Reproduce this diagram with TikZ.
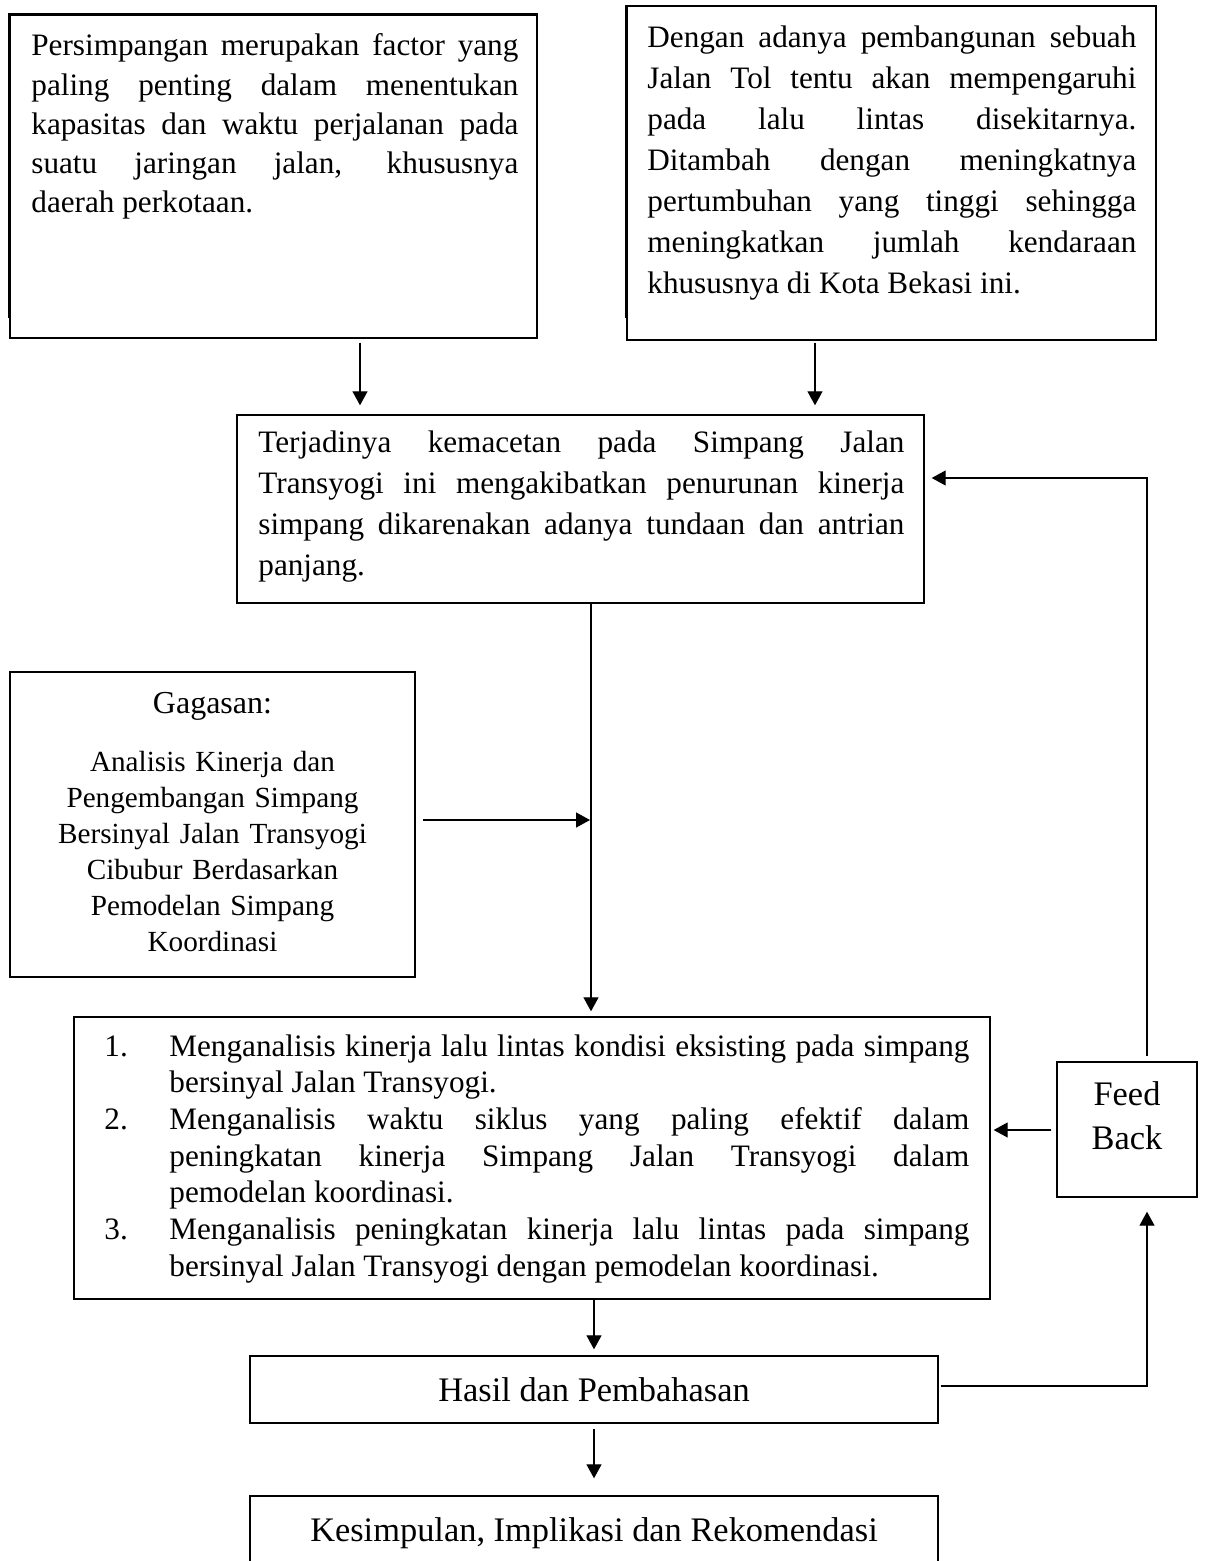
\documentclass[tikz,border=0pt]{standalone}
\usepackage{fontspec}
\setmainfont{Liberation Serif}
\usetikzlibrary{arrows.meta}

\tolerance=10000
\hbadness=10000
\hyphenpenalty=10000

\newcommand{\nomor}[1]{\leavevmode\llap{\makebox[32.5pt][l]{#1}}}

\tikzstyle{myBox} = [draw=black, line width=0.7pt, rectangle, inner sep=0pt]
\tikzstyle{myText} = [inner sep=0pt, align=justify,
    font=\fontsize{15.6}{20.5}\selectfont]
\tikzstyle{myLabel} = [font=\fontsize{17.2}{22}\selectfont]
\tikzstyle{myArrow} = [draw=black, line width=0.65pt,
    -{Triangle[length=7pt,width=7.5pt]}]

\begin{document}
\begin{tikzpicture}[x=0.5pt, y=-0.5pt]

\useasboundingbox (0,0) rectangle (1206,1561);
\clip (0,0) rectangle (1206,1561);

\node[myBox, minimum width=263.5pt, minimum height=161.5pt] (Persimpangan) at (273.5,176.5) {};
\node[myBox, minimum width=264.5pt, minimum height=167pt] (JalanTol) at (891.5,173) {};
\node[myBox, minimum width=343.5pt, minimum height=94pt] (Kemacetan) at (580.5,509) {};
\node[myBox, minimum width=202.5pt, minimum height=152.5pt] (Gagasan) at (212.5,824.5) {};
\node[myBox, minimum width=458pt, minimum height=141pt] (Tujuan) at (532,1158) {};
\node[myBox, minimum width=70pt, minimum height=67.5pt] (FeedBack) at (1127,1129.5) {};
\node[myBox, myLabel, minimum width=344pt, minimum height=33.5pt] (Hasil) at (594,1389.5) {Hasil dan Pembahasan};
\node[myBox, myLabel, minimum width=344pt, minimum height=37pt] (Kesimpulan) at (594,1533) {Kesimpulan, Implikasi dan Rekomendasi};

\draw[line width=1.4pt] (Persimpangan.north west |- 0,318) -- (Persimpangan.north west) -- (Persimpangan.north east);
\draw[line width=1.4pt] (JalanTol.north west |- 0,318) -- (JalanTol.north west);

\node[myText, text width=243.5pt, anchor=base west, font=\fontsize{15.6}{19.6}\selectfont] (PersimpanganText) at (31,56) {Persimpangan merupakan factor yang\linebreak paling penting dalam menentukan\linebreak kapasitas dan waktu perjalanan pada\linebreak suatu jaringan jalan, khususnya\linebreak daerah perkotaan.};
\node[myText, text width=244.5pt, anchor=base west] (JalanTolText) at (647,48) {Dengan adanya pembangunan sebuah\linebreak Jalan Tol tentu akan mempengaruhi\linebreak pada lalu lintas disekitarnya.\linebreak Ditambah dengan meningkatnya\linebreak pertumbuhan yang tinggi sehingga\linebreak meningkatkan jumlah kendaraan\linebreak khususnya di Kota Bekasi ini.};
\node[myText, text width=323pt, anchor=base west] (KemacetanText) at (258,452) {Terjadinya kemacetan pada Simpang Jalan\linebreak Transyogi ini mengakibatkan penurunan kinerja\linebreak simpang dikarenakan adanya tundaan dan antrian\linebreak panjang.};
\node[anchor=base, inner sep=0pt, font=\fontsize{16}{20}\selectfont] (GagasanJudul) at (212.5,713) {Gagasan:};
\node[myText, text width=190pt, align=center, anchor=base, font=\fontsize{14.6}{18}\selectfont] (GagasanText) at (212.5,771) {Analisis Kinerja dan\\Pengembangan Simpang\\Bersinyal Jalan Transyogi\\Cibubur Berdasarkan\\Pemodelan Simpang\\Koordinasi};
\node[myText, text width=400pt, anchor=base west, font=\fontsize{15.6}{18.35}\selectfont] (TujuanText) at (169,1056) {%
\nomor{1.}Menganalisis kinerja lalu lintas kondisi eksisting pada simpang\linebreak bersinyal Jalan Transyogi.\par
\nomor{2.}Menganalisis waktu siklus yang paling efektif dalam\linebreak peningkatan kinerja Simpang Jalan Transyogi dalam\linebreak pemodelan koordinasi.\par
\nomor{3.}Menganalisis peningkatan kinerja lalu lintas pada simpang\linebreak bersinyal Jalan Transyogi dengan pemodelan koordinasi.};
\node[myText, myLabel, text width=60pt, align=center, anchor=base] (FeedBackText) at (1127,1105) {Feed\\Back};

\coordinate (JalurA) at (360,0);
\coordinate (JalurB) at (815,0);
\coordinate (JalurTengah) at (591,0);
\coordinate (JalurBawah) at (594,0);
\coordinate (Gabung) at (591,820);
\coordinate (BarisFeed) at (0,1130);
\coordinate (BalikAtas) at (1147,478);
\coordinate (BalikBawah) at (1147,1386);

\draw[myArrow, shorten <=2pt, shorten >=4.5pt] (Persimpangan.south -| JalurA) -- (Kemacetan.north -| JalurA);
\draw[myArrow, shorten <=1pt, shorten >=4.5pt] (JalanTol.south -| JalurB) -- (Kemacetan.north -| JalurB);
\draw[myArrow, shorten >=2.5pt] (Kemacetan.south -| JalurTengah) -- (Tujuan.north -| JalurTengah);
\draw[myArrow, shorten <=3.5pt, shorten >=0.5pt] (Gagasan.east |- Gabung) -- (Gabung);
\draw[myArrow, shorten <=2.5pt, shorten >=1.5pt] (FeedBack.west |- BarisFeed) -- (Tujuan.east |- BarisFeed);
\draw[myArrow, shorten <=2.5pt, shorten >=3.5pt] (FeedBack.north -| BalikAtas) -- (BalikAtas) -- (Kemacetan.east |- BalikAtas);
\draw[myArrow, shorten >=3pt] (Tujuan.south -| JalurBawah) -- (Hasil.north -| JalurBawah);
\draw[myArrow, shorten <=2.5pt, shorten >=8.5pt] (Hasil.south -| JalurBawah) -- (Kesimpulan.north -| JalurBawah);
\draw[myArrow, shorten <=1pt, shorten >=7pt] (Hasil.east |- BalikBawah) -- (BalikBawah) -- (FeedBack.south -| BalikBawah);

\end{tikzpicture}
\end{document}
